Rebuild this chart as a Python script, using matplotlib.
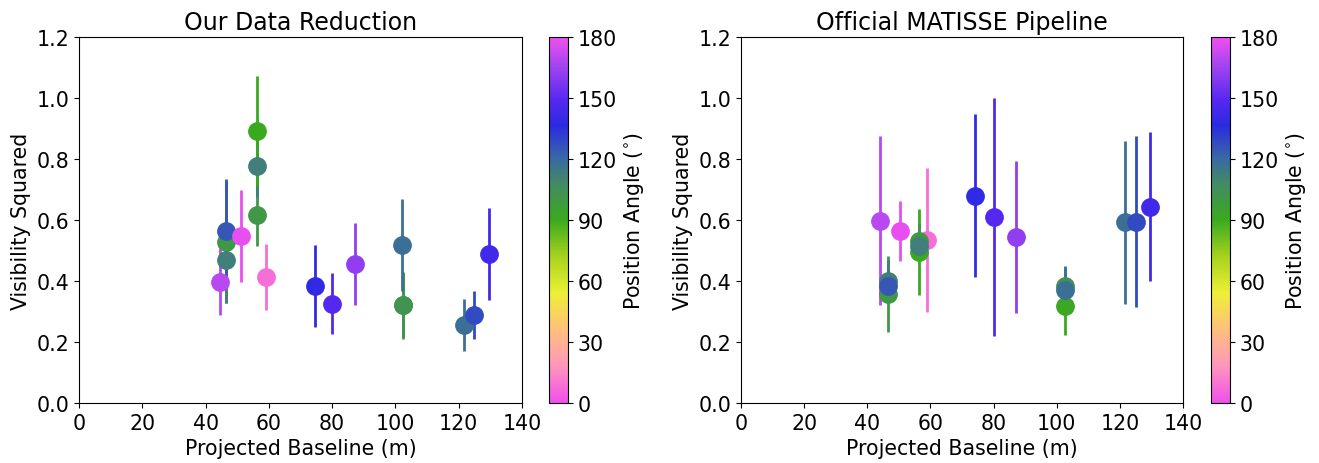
import numpy as np
import matplotlib
matplotlib.use("Agg")
import matplotlib.pyplot as plt
from matplotlib.colors import LinearSegmentedColormap, Normalize
from matplotlib.cm import ScalarMappable

# projected baselines (m), V^2, error, position angle (deg) - our reduction
bl_ours = [44.6, 46.5, 46.5, 46.5, 51.2, 59.1, 56.3, 56.3, 56.3, 74.6, 80.0, 87.2,
           102.4, 102.4, 102.0, 121.7, 124.8, 129.6]
v2_ours = [0.397, 0.528, 0.469, 0.564, 0.548, 0.413, 0.616, 0.777, 0.892, 0.384, 0.325, 0.456,
           0.320, 0.321, 0.518, 0.256, 0.289, 0.489]
err_ours = [0.11, 0.20, 0.14, 0.17, 0.15, 0.107, 0.10, 0.10, 0.18, 0.135, 0.10, 0.135,
            0.11, 0.105, 0.15, 0.085, 0.078, 0.15]
pa_ours = [170, 100, 112, 125, 178, 8, 100, 112, 90, 138, 148, 162,
           92, 103, 118, 118, 128, 143]

# official MATISSE pipeline
bl_off = [44.0, 46.5, 46.5, 46.5, 50.5, 58.8, 56.5, 56.5, 56.5, 74.0, 80.0, 87.0,
          102.5, 102.5, 102.5, 121.6, 125.0, 129.5]
v2_off = [0.597, 0.357, 0.400, 0.384, 0.564, 0.534, 0.495, 0.531, 0.515, 0.679, 0.610, 0.544,
          0.318, 0.384, 0.371, 0.593, 0.594, 0.643]
err_off = [0.277, 0.125, 0.07, 0.05, 0.098, 0.235, 0.14, 0.06, 0.04, 0.267, 0.39, 0.25,
           0.095, 0.06, 0.078, 0.267, 0.28, 0.244]
pa_off = [170, 100, 112, 125, 178, 8, 90, 100, 112, 138, 148, 162,
          92, 103, 118, 118, 128, 143]

# cyclic-ish colour map
cmap = LinearSegmentedColormap.from_list("pa", [
    (0.00, "#f050ec"), (0.10, "#ff96bc"), (0.20, "#ffc07c"), (0.30, "#eef035"),
    (0.40, "#a6d21e"), (0.50, "#3aaa1e"), (0.60, "#438a64"), (0.67, "#3a68a4"),
    (0.76, "#2a2ae2"), (0.83, "#5828f0"), (0.92, "#a044f0"), (1.00, "#f050f0")])
norm = Normalize(0, 180)

plt.rcParams["font.size"] = 14.8

fig = plt.figure(figsize=(13.19, 4.64), dpi=100)
ax1 = fig.add_axes([0.0599, 0.1293, 0.3359, 0.7888])
cax1 = fig.add_axes([0.4162, 0.1293, 0.0144, 0.7888])
ax2 = fig.add_axes([0.5618, 0.1293, 0.3351, 0.7888])
cax2 = fig.add_axes([0.9181, 0.1293, 0.0144, 0.7888])

panels = [(ax1, cax1, "Our Data Reduction", bl_ours, v2_ours, err_ours, pa_ours),
          (ax2, cax2, "Official MATISSE Pipeline", bl_off, v2_off, err_off, pa_off)]

for ax, cax, title, bl, v2, err, pa in panels:
    for i in range(len(bl)):
        c = cmap(norm(pa[i]))
        ax.errorbar(bl[i], v2[i], yerr=err[i], fmt="o", color=c, ms=12.5,
                    elinewidth=2, capsize=0)
    ax.set_xlim(0, 140)
    ax.set_ylim(0, 1.2)
    ax.set_xlabel("Projected Baseline (m)")
    ax.set_ylabel("Visibility Squared")
    ax.set_title(title, fontsize=17)
    cb = fig.colorbar(ScalarMappable(norm=norm, cmap=cmap), cax=cax)
    cb.set_ticks([0, 30, 60, 90, 120, 150, 180])
    cb.set_label(r"Position Angle ($^{\circ}$)")

fig.savefig("out.png", dpi=100)
